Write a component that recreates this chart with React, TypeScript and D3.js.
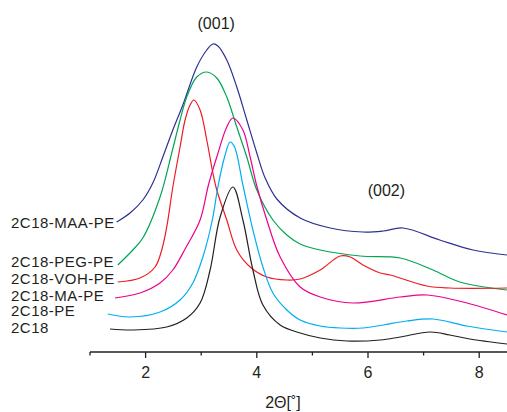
import React from 'react';
import * as d3 from 'd3';

// XRD patterns: [2θ, intensity (a.u.)]
const c2C18: [number, number][] = [
  [1.36, 23], [1.77, 22], [2.38, 25], [2.74, 34], [2.98, 49], [3.16, 82], [3.34, 135],
  [3.57, 165], [3.75, 132], [3.93, 82], [4.11, 47], [4.42, 27], [4.78, 19], [5.14, 14],
  [5.62, 11], [6.22, 12], [6.58, 15], [7.12, 20], [7.47, 17], [7.83, 13], [8.5, 8],
];
const c2C18PE: [number, number][] = [
  [1.32, 38], [1.72, 35], [2.26, 40], [2.62, 52], [2.85, 69], [3.03, 95], [3.2, 132],
  [3.3, 165], [3.42, 195], [3.52, 210], [3.6, 205], [3.75, 167], [3.93, 122], [4.11, 85],
  [4.29, 59], [4.54, 42], [4.78, 32], [5.14, 26], [5.5, 24], [5.91, 24], [6.27, 27],
  [6.7, 31], [7.17, 33], [7.78, 26], [8.5, 20],
];
const c2C18MAPE: [number, number][] = [
  [1.45, 54], [1.9, 59], [2.26, 69], [2.49, 82], [2.72, 104], [2.98, 132], [3.13, 167],
  [3.28, 195], [3.46, 225], [3.57, 234], [3.75, 222], [3.88, 195], [4.0, 166], [4.18, 132],
  [4.42, 95], [4.78, 65], [5.14, 55], [5.73, 49], [6.58, 55], [7.06, 57], [7.78, 49], [8.5, 37],
];
const c2C18VOHPE: [number, number][] = [
  [1.5, 70], [1.9, 74], [2.17, 85], [2.29, 102], [2.38, 125], [2.49, 165], [2.62, 205],
  [2.71, 232], [2.8, 247], [2.87, 252], [2.98, 242], [3.1, 212], [3.21, 179], [3.28, 162],
  [3.46, 132], [3.64, 102], [3.88, 85], [4.18, 75], [4.54, 72], [4.78, 73], [5.14, 82],
  [5.5, 96], [5.68, 95], [5.91, 87], [6.22, 79], [6.4, 77], [7.06, 66], [7.47, 64], [8.5, 64],
];
const c2C18PEGPE: [number, number][] = [
  [1.5, 87], [1.77, 102], [1.95, 114], [2.26, 155], [2.47, 199], [2.62, 232], [2.74, 255],
  [2.92, 275], [3.1, 280], [3.28, 274], [3.46, 255], [3.64, 225], [3.82, 195], [4.0, 162],
  [4.29, 132], [4.54, 117], [4.78, 108], [5.14, 102], [5.86, 96], [6.58, 94], [7.17, 82],
  [7.65, 70], [8.5, 62],
];
const c2C18MAAPE: [number, number][] = [
  [1.48, 130], [1.72, 139], [1.95, 152], [2.13, 169], [2.31, 195], [2.49, 222], [2.67, 247],
  [2.92, 285], [3.1, 302], [3.21, 308], [3.3, 306], [3.46, 292], [3.64, 265], [3.82, 232],
  [4.0, 199], [4.15, 174], [4.36, 153], [4.78, 134], [5.32, 124], [5.91, 120], [6.27, 121],
  [6.63, 124], [7.29, 112], [7.89, 102], [8.5, 97],
];

const seriesNames = ['2C18-MAA-PE', '2C18-PEG-PE', '2C18-VOH-PE', '2C18-MA-PE', '2C18-PE', '2C18'];
const seriesData = [c2C18MAAPE, c2C18PEGPE, c2C18VOHPE, c2C18MAPE, c2C18PE, c2C18];
const seriesColors = ['#2e3192', '#00a651', '#ed1c24', '#ec008c', '#00aeef', '#231f20'];
// label centres sit beside where each curve starts
const labelY = [223, 262, 279, 296, 311, 328];

const majorTicks = [2, 4, 6, 8];
const minorTicks = [1, 3, 5, 7];
const peakLabels: { text: string; x: number; y: number }[] = [
  { text: '(001)', x: 3.27, y: 329 },
  { text: '(002)', x: 6.33, y: 162 },
];

const W = 507;
const H = 412;
const font = 'Liberation Sans, Arial, sans-serif';

export default function App() {
  const x = d3.scaleLinear().domain([1, 8.5]).range([90, 507]);
  const y = d3.scaleLinear().domain([0, 320]).range([352, 32]);
  const line = d3
    .line<[number, number]>()
    .x((d) => x(d[0]))
    .y((d) => y(d[1]))
    .curve(d3.curveCatmullRom.alpha(0.5));

  const axisY = y(0);

  return (
    <svg
      width={W}
      height={H}
      style={{ position: 'absolute', left: 0, top: 0, background: '#fff' }}
      fontFamily={font}
    >
      {seriesData.map((pts, i) => (
        <path key={seriesNames[i]} d={line(pts) || ''} fill="none" stroke={seriesColors[i]} strokeWidth={1.2} />
      ))}

      {seriesNames.map((name, i) => (
        <text key={name} x={11} y={labelY[i]} dy="0.35em" fontSize={15} letterSpacing={0.5} fill="#231f20">
          {name}
        </text>
      ))}

      {peakLabels.map((p) => (
        <text key={p.text} x={x(p.x)} y={y(p.y)} dy="0.35em" textAnchor="middle" fontSize={16} fill="#231f20">
          {p.text}
        </text>
      ))}

      {/* bottom axis */}
      <line x1={x(1)} x2={W} y1={axisY} y2={axisY} stroke="#231f20" strokeWidth={1.3} />
      {majorTicks.map((t) => (
        <g key={t}>
          <line x1={x(t)} x2={x(t)} y1={axisY} y2={axisY + 6} stroke="#231f20" strokeWidth={1.3} />
          <text x={x(t)} y={372} dy="0.35em" textAnchor="middle" fontSize={16} fill="#231f20">
            {t}
          </text>
        </g>
      ))}
      {minorTicks.map((t) => (
        <line key={t} x1={x(t)} x2={x(t)} y1={axisY} y2={axisY + 3.5} stroke="#231f20" strokeWidth={1.3} />
      ))}
      <text x={283} y={402} dy="0.35em" textAnchor="middle" fontSize={16} fill="#231f20">
        2Θ[˚]
      </text>
    </svg>
  );
}
